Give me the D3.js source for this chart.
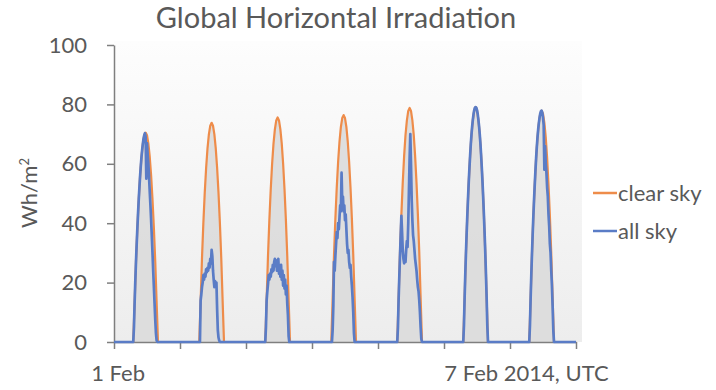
<!DOCTYPE html>
<html>
<head>
<meta charset="utf-8">
<script src="https://cdn.jsdelivr.net/npm/d3@7"></script>
<style>
  html, body { margin: 0; padding: 0; background: #fff; }
  svg { display: block; font-family: Lato, "Open Sans", sans-serif; }
</style>
</head>
<body>
<svg id="chart" width="716" height="390"></svg>
<script>
// one week of global horizontal irradiation, 1-8 Feb 2014 (UTC)
const startDay = Date.UTC(2014, 1, 1);
const dayCount = 7;

// clear sky: half-hourly, 07:00 .. 16:00 UTC
const hoursClear = [7, 7.5, 8, 8.5, 9, 9.5, 10, 10.5, 11, 11.5, 12, 12.5, 13, 13.5, 14, 14.5, 15, 15.5, 16];
const clearSky = [
  [0, 13.3, 27.1, 38.4, 48.0, 56.0, 62.3, 66.8, 69.6, 70.5, 69.6, 66.8, 62.3, 56.0, 48.0, 38.4, 27.1, 13.3, 0],
  [0, 13.9, 28.3, 40.2, 50.3, 58.6, 65.2, 69.9, 72.8, 73.8, 72.8, 69.9, 65.2, 58.6, 50.3, 40.2, 28.3, 13.9, 0],
  [0, 14.3, 29.0, 41.2, 51.5, 60.0, 66.8, 71.6, 74.6, 75.6, 74.6, 71.6, 66.8, 60.0, 51.5, 41.2, 29.0, 14.3, 0],
  [0, 14.4, 29.3, 41.6, 52.0, 60.7, 67.5, 72.4, 75.4, 76.4, 75.4, 72.4, 67.5, 60.7, 52.0, 41.6, 29.3, 14.4, 0],
  [0, 14.9, 30.3, 42.9, 53.7, 62.6, 69.7, 74.6, 77.8, 78.8, 77.8, 74.6, 69.7, 62.6, 53.7, 42.9, 30.3, 14.9, 0],
  [0, 15.0, 30.4, 43.1, 53.9, 62.8, 69.9, 74.9, 78.1, 79.1, 78.1, 74.9, 69.9, 62.8, 53.9, 43.1, 30.4, 15.0, 0],
  [0, 14.7, 29.9, 42.5, 53.0, 61.9, 68.9, 73.8, 76.9, 77.9, 76.9, 73.8, 68.9, 61.9, 53.0, 42.5, 29.9, 14.7, 0]
];

// all sky (measured): quarter-hourly, 07:00 .. 16:00 UTC
const hoursAll = [7, 7.25, 7.5, 7.75, 8, 8.25, 8.5, 8.75, 9, 9.25, 9.5, 9.75, 10, 10.25, 10.5, 10.75, 11, 11.25, 11.5,
  11.75, 12, 12.25, 12.5, 12.75, 13, 13.25, 13.5, 13.75, 14, 14.25, 14.5, 14.75, 15, 15.25, 15.5, 15.75, 16];
const allSky = [
  [0, 4.9, 13.3, 20.6, 27.1, 33, 38.4, 43.4, 48, 52.2, 56, 59.4, 62.3, 64.8, 66.8, 68.5, 69.6, 70.3, 69,
    55, 67, 63, 60, 55.5, 50.5, 46, 41, 35.5, 30, 24, 18.5, 13, 7.5, 3, 0.5, 0, 0],
  [0, 0, 14, 16, 18.5, 20, 22.5, 21, 23, 22, 24.5, 23.5, 25, 24, 26.5, 25, 28, 26.5, 31,
    29, 24, 21, 18.5, 20.5, 19, 20, 11, 4, 1.5, 0.5, 0, 0, 0, 0, 0, 0, 0],
  [0, 5, 14, 17, 19.5, 22.5, 21, 23, 22, 24.5, 23.5, 26, 24, 27, 28, 25.5, 27.5, 24, 26,
    28, 23, 25.5, 22, 26, 21, 24, 19, 22.5, 18, 21, 16, 19, 13, 9, 2, 0, 0],
  [0, 0, 4, 12, 27, 24, 29, 33, 37, 35, 40, 38, 42, 46, 44, 57, 47, 49, 44,
    46, 41, 43, 38, 33, 30, 31, 27, 25, 26, 22, 19, 15, 10, 3, 0, 0, 0],
  [0, 5, 14.5, 22, 29, 36, 42.5, 37, 31, 28, 26.5, 29, 27, 31, 34, 32, 40, 51, 62,
    70, 60, 48, 41, 36, 34, 31, 28, 26, 24, 21, 18.5, 17, 14, 10, 5, 1, 0],
  [0, 5.5, 15.0, 23.1, 30.4, 37.0, 43.1, 48.7, 53.9, 58.6, 62.8, 66.7, 69.9, 72.7, 74.9, 76.8, 78.1, 78.9, 79.1,
    78.9, 78.1, 76.8, 74.9, 72.7, 69.9, 66.7, 62.8, 58.6, 53.9, 48.7, 43.1, 37.0, 30.4, 23.1, 15.0, 5.5, 0],
  [0, 5.5, 14.7, 22.7, 29.9, 36.5, 42.5, 48, 53, 57.7, 61.9, 65.7, 68.9, 71.6, 73.8, 75.6, 76.9, 77.7, 77.9,
    77.2, 75.5, 73, 58, 66, 60, 57, 52, 49, 43, 39, 33, 30, 24, 19, 12, 4, 0]
];

const yTicks = [0, 20, 40, 60, 80, 100];
const seriesNames = ["clear sky", "all sky"];
const seriesColors = ["#ee8c4a", "#5a7cc6"];
// x labels: [text, offset in hours from 1 Feb 00:00]
const xLabels = [["1 Feb", 1.5], ["7 Feb 2014, UTC", 6 * 24 + 6]];

const svg = d3.select("#chart");
const margin = { left: 114, right: 140, top: 45, bottom: 48 };
const W = 716, H = 390;

const t0 = new Date(startDay);
const t1 = new Date(startDay + dayCount * 864e5);
const x = d3.scaleUtc().domain([t0, t1]).range([margin.left, W - margin.right]);
const y = d3.scaleLinear().domain([0, 100]).range([H - margin.bottom, margin.top]);

const at = (day, h) => new Date(startDay + day * 864e5 + h * 3600e3);

// nights are zero, so just chain the days together
function buildSeries(hours, values) {
  const pts = [[t0, 0]];
  values.forEach((day, i) => {
    hours.forEach((h, j) => pts.push([at(i, h), day[j]]));
  });
  pts.push([t1, 0]);
  return pts;
}
const clearPts = buildSeries(hoursClear, clearSky);
const allPts = buildSeries(hoursAll, allSky);

// plot background
const defs = svg.append("defs");
const grad = defs.append("linearGradient").attr("id", "bg").attr("x1", 0).attr("y1", 0).attr("x2", 0).attr("y2", 1);
grad.append("stop").attr("offset", "0%").attr("stop-color", "#fdfdfd");
grad.append("stop").attr("offset", "100%").attr("stop-color", "#ededed");
svg.append("rect")
  .attr("x", x.range()[0])
  .attr("y", y(100) - 4)
  .attr("width", x.range()[1] - x.range()[0] + 6)
  .attr("height", y(0) - y(100) + 4)
  .attr("fill", "url(#bg)");

// grey fill under clear sky
svg.append("path")
  .datum(clearPts)
  .attr("fill", "#d9d9d9")
  .attr("opacity", 0.85)
  .attr("d", d3.area().x(d => x(d[0])).y0(y(0)).y1(d => y(d[1])));

// axes
const gx = svg.append("g")
  .attr("transform", `translate(0,${y(0)})`)
  .call(d3.axisBottom(x).ticks(d3.utcDay.every(1)).tickFormat("").tickSize(7).tickSizeOuter(0));
const gy = svg.append("g")
  .attr("transform", `translate(${x.range()[0]},0)`)
  .call(d3.axisLeft(y).tickValues(yTicks).tickSize(7).tickSizeOuter(0).tickPadding(20));
[gx, gy].forEach(g => {
  g.select(".domain").attr("stroke", "#7f7f7f").attr("stroke-width", 1.5);
  g.selectAll(".tick line").attr("stroke", "#7f7f7f").attr("stroke-width", 1.5);
});
gy.selectAll(".tick text")
  .attr("fill", "#595959")
  .attr("font-size", 22)
  .attr("font-family", "Lato, sans-serif");

// series lines
const line = d3.line().x(d => x(d[0])).y(d => y(d[1]));
svg.append("path").datum(clearPts)
  .attr("fill", "none").attr("stroke", seriesColors[0]).attr("stroke-width", 2.2)
  .attr("stroke-linejoin", "round").attr("d", line);
svg.append("path").datum(allPts)
  .attr("fill", "none").attr("stroke", seriesColors[1]).attr("stroke-width", 2.7)
  .attr("stroke-linejoin", "round").attr("d", line);

// x labels
svg.selectAll(".xlabel")
  .data(xLabels)
  .enter().append("text")
  .attr("class", "xlabel")
  .attr("x", d => x(new Date(startDay + d[1] * 3600e3)))
  .attr("y", 381)
  .attr("text-anchor", "middle")
  .attr("fill", "#595959")
  .attr("font-size", 22)
  .text(d => d[0]);

// title
svg.append("text")
  .attr("x", 336).attr("y", 28)
  .attr("text-anchor", "middle")
  .attr("fill", "#595959")
  .attr("font-size", 29)
  .text("Global Horizontal Irradiation");

// y axis title
svg.append("text")
  .attr("transform", "translate(37,193) rotate(-90)")
  .attr("text-anchor", "middle")
  .attr("fill", "#595959")
  .attr("font-size", 22)
  .html('Wh/m<tspan dy="-8" font-size="13">2</tspan>');

// legend
const legend = svg.append("g").attr("transform", "translate(593,193)");
seriesNames.forEach((name, i) => {
  const g = legend.append("g").attr("transform", `translate(0,${i * 38})`);
  g.append("line").attr("x1", 0).attr("x2", 24).attr("y1", 0).attr("y2", 0)
    .attr("stroke", seriesColors[i]).attr("stroke-width", 2.5);
  g.append("text").attr("x", 25).attr("y", 0).attr("dy", "0.35em")
    .attr("fill", "#595959").attr("font-size", 22).text(name);
});
</script>
</body>
</html>
